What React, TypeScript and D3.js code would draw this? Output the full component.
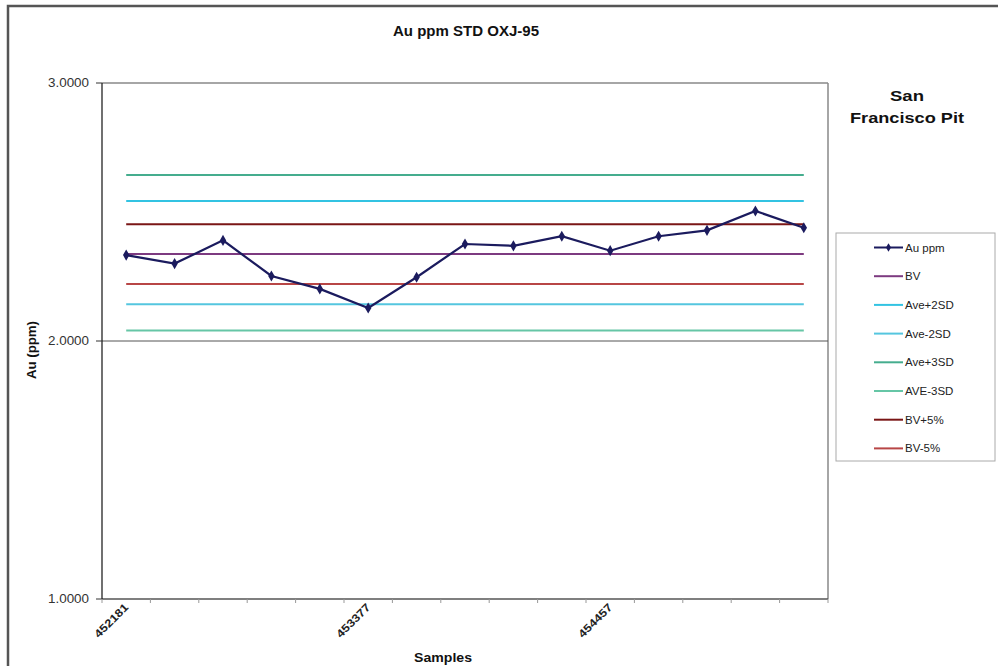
import React from "react";
import * as d3 from "d3";

const samples = ["452181","s2","s3","s4","s5","453377","s7","s8","s9","s10","454457","s12","s13","s14","s15"];
const tickLabels = ["452181", "453377", "454457"];
const auPpm = [2.333, 2.300, 2.390, 2.252, 2.202, 2.128, 2.247, 2.376, 2.369, 2.406, 2.350, 2.406, 2.429, 2.504, 2.439];
const refNames = ["BV", "Ave+2SD", "Ave-2SD", "Ave+3SD", "AVE-3SD", "BV+5%", "BV-5%"];
const refValues = [2.337, 2.543, 2.142, 2.643, 2.041, 2.453, 2.221];
const yTicks = [1, 2, 3];

const refColors = ["#7d3a80", "#33c3e2", "#55c6df", "#45ad8e", "#66c6a6", "#7a1616", "#b84646"];
const auColor = "#1b1b5e";
const FONT = "'Liberation Sans', Arial, sans-serif";

export default function App() {
  const W = 998, H = 666;
  const left = 102, right = 828, top = 83, bottom = 599;
  const x = d3.scaleBand<string>().domain(samples).range([left, right]);
  const cx = (s: string) => (x(s) as number) + x.bandwidth() / 2;
  const y = d3.scaleLinear().domain([1, 3]).range([bottom, top]);
  const line = d3.line<number>().x((_, i) => cx(samples[i])).y((v) => y(v));
  const diamond = d3.symbol().type(d3.symbolDiamond).size(36)() as string;

  const legendItems = ["Au ppm", ...refNames];
  const legendColors = [auColor, ...refColors];

  return (
    <svg width={W} height={H} style={{ position: "absolute", left: 0, top: 0, background: "#fff" }} fontFamily={FONT}>
      <rect x={0} y={0} width={W} height={H} fill="#fff" />
      <rect x={8} y={6} width={1020} height={720} fill="none" stroke="#555" strokeWidth={2.5} />
      <text x={466} y={36} textAnchor="middle" fontSize={14} fontWeight="bold" fill="#111" textLength={146} lengthAdjust="spacingAndGlyphs">Au ppm STD OXJ-95</text>
      <text x={907} y={101} textAnchor="middle" fontSize={15} fontWeight="bold" fill="#111" textLength={34} lengthAdjust="spacingAndGlyphs">San</text>
      <text x={907} y={123} textAnchor="middle" fontSize={15} fontWeight="bold" fill="#111" textLength={114} lengthAdjust="spacingAndGlyphs">Francisco Pit</text>

      {/* plot frame */}
      <line x1={left} x2={right} y1={top} y2={top} stroke="#888" strokeWidth={1.5} />
      <line x1={right} x2={right} y1={top} y2={bottom} stroke="#888" strokeWidth={1.5} />
      <line x1={left} x2={right} y1={y(2)} y2={y(2)} stroke="#555" strokeWidth={1} />
      <line x1={left} x2={right} y1={bottom} y2={bottom} stroke="#555" strokeWidth={1.5} />
      <line x1={left} x2={left} y1={top} y2={bottom} stroke="#111" strokeWidth={1.2} />

      {yTicks.map((t) => (
        <g key={t}>
          <line x1={left - 6} x2={left} y1={y(t)} y2={y(t)} stroke="#333" />
          <text x={left - 13} y={y(t) + 4} textAnchor="end" fontSize={12} fill="#333" textLength={41} lengthAdjust="spacingAndGlyphs">{t.toFixed(4)}</text>
        </g>
      ))}
      {samples.map((s, i) => (
        <line key={"xt" + i} x1={x(s) as number} x2={x(s) as number} y1={bottom} y2={bottom + 4} stroke="#999" />
      ))}
      <line x1={right} x2={right} y1={bottom} y2={bottom + 4} stroke="#999" />
      {samples.map((s) => tickLabels.includes(s) ? (
        <text key={"xl" + s} transform={`translate(${cx(s) + 3},${bottom + 9}) rotate(-45)`} textAnchor="end" fontSize={11} fontWeight="bold" fill="#222" textLength={43} lengthAdjust="spacingAndGlyphs">{s}</text>
      ) : null)}

      <text x={443} y={662} textAnchor="middle" fontSize={13} fontWeight="bold" fill="#111" textLength={58} lengthAdjust="spacingAndGlyphs">Samples</text>
      <text transform={`translate(36,350) rotate(-90)`} textAnchor="middle" fontSize={12} fontWeight="bold" fill="#111" textLength={58} lengthAdjust="spacingAndGlyphs">Au (ppm)</text>

      {refValues.map((v, k) => (
        <path key={"ref" + k} d={line(samples.map(() => v)) as string} fill="none" stroke={refColors[k]} strokeWidth={2} />
      ))}
      <path d={line(auPpm) as string} fill="none" stroke={auColor} strokeWidth={2.2} />
      {auPpm.map((v, i) => (
        <path key={"pt" + i} d={diamond} transform={`translate(${cx(samples[i])},${y(v)})`} fill={auColor} />
      ))}

      {/* legend */}
      <rect x={836} y={233} width={159} height={228} fill="#fff" stroke="#aaa" strokeWidth={1} />
      {legendItems.map((name, k) => {
        const ly = 247.5 + k * 28.7;
        return (
          <g key={"lg" + k}>
            <line x1={874} x2={903} y1={ly} y2={ly} stroke={legendColors[k]} strokeWidth={2} />
            {k === 0 && <path d={d3.symbol().type(d3.symbolDiamond).size(22)() as string} transform={`translate(888.5,${ly})`} fill={auColor} />}
            <text x={905} y={ly + 4} fontSize={11.5} fill="#222">{name}</text>
          </g>
        );
      })}
    </svg>
  );
}
